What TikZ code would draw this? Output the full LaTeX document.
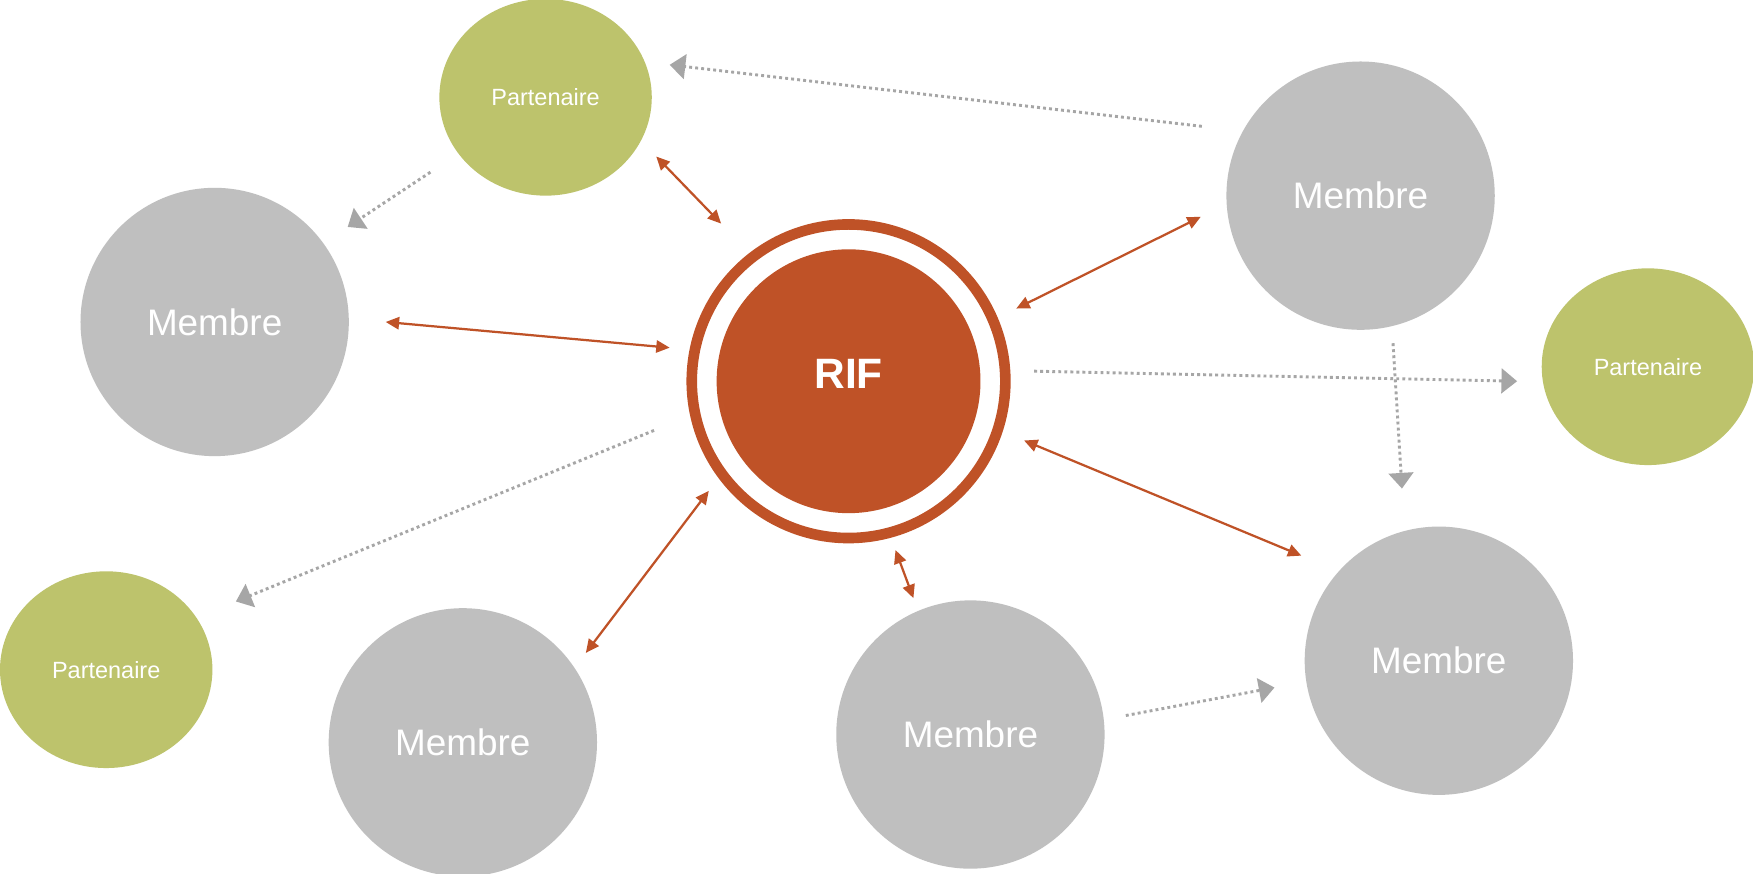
\documentclass[tikz,border=0pt]{standalone}
\usepackage{fontspec}
\setmainfont{Liberation Sans}
\usetikzlibrary{arrows.meta,shapes.geometric}
\definecolor{rifred}{RGB}{191,82,39}
\definecolor{memgray}{RGB}{191,191,191}
\definecolor{partgreen}{RGB}{189,195,108}
\definecolor{dotgray}{RGB}{166,166,166}
\tikzset{
  membre/.style={circle,fill=memgray,draw=none,minimum size=240pt,inner sep=0pt,text=white,font=\fontsize{33}{38}\selectfont},
  partenaire/.style={ellipse,fill=partgreen,draw=none,minimum width=190pt,minimum height=176pt,inner sep=0pt,text=white,font=\fontsize{21}{24}\selectfont},
  rifcore/.style={circle,fill=rifred,draw=none,minimum size=236pt,inner sep=0pt,text=white,font=\bfseries\fontsize{38}{44}\selectfont},
  rifring/.style={circle,draw=rifred,line width=9.5pt,minimum size=280.5pt,inner sep=0pt},
  link/.style={draw=rifred,line width=2pt,{Triangle[length=12pt,width=11pt]}-{Triangle[length=12pt,width=11pt]}},
  flow/.style={draw=dotgray,line width=2.6pt,dash pattern=on 2.6pt off 2.8pt,-{Triangle[length=14pt,width=22pt]}}
}
\begin{document}
\begin{tikzpicture}[x=1pt,y=-1pt]
\clip (0,0) rectangle (1568,781);
\fill[white] (0,0) rectangle (1568,781);
% nodes
\node[partenaire] (p1) at (488,87) {Partenaire};
\node[partenaire] (p2) at (1474,328) {Partenaire};
\node[partenaire] (p3) at (95,599) {Partenaire};
\node[membre] (m1) at (192,288) {Membre};
\node[membre] (m2) at (1217,175) {Membre};
\node[membre] (m3) at (414,664) {Membre};
\node[membre] (m4) at (868,657) {Membre};
\node[membre] (m5) at (1287,591) {Membre};
\node[rifring] (ring) at (759,341) {};
\node[rifcore] (rif) at (759,341) {\raisebox{13pt}{RIF}};
% connector ends
\coordinate (a1s) at (587,140);  \coordinate (a1e) at (645,200);
\coordinate (a2s) at (345,288);  \coordinate (a2e) at (599,311);
\coordinate (a3s) at (909,276);  \coordinate (a3e) at (1074,194);
\coordinate (a4s) at (634,439);  \coordinate (a4e) at (524,584);
\coordinate (a5s) at (916,394);  \coordinate (a5e) at (1164,497);
\coordinate (a6s) at (801,492);  \coordinate (a6e) at (817,535);
\coordinate (f1s) at (1075,113); \coordinate (f1e) at (599,58);
\coordinate (f2s) at (385,154);  \coordinate (f2e) at (311,203);
\coordinate (f3s) at (925,332);  \coordinate (f3e) at (1357,341);
\coordinate (f4s) at (1246,307); \coordinate (f4e) at (1254,437);
\coordinate (f5s) at (585,385);  \coordinate (f5e) at (211,538);
\coordinate (f6s) at (1007,640); \coordinate (f6e) at (1140,615);
% orange two-way links
\draw[link] (a1s) -- (a1e);
\draw[link] (a2s) -- (a2e);
\draw[link] (a3s) -- (a3e);
\draw[link] (a4s) -- (a4e);
\draw[link] (a5s) -- (a5e);
\draw[link] (a6s) -- (a6e);
% grey dotted flows
\draw[flow] (f1s) -- (f1e);
\draw[flow] (f2s) -- (f2e);
\draw[flow] (f3s) -- (f3e);
\draw[flow] (f4s) -- (f4e);
\draw[flow] (f5s) -- (f5e);
\draw[flow] (f6s) -- (f6e);
\end{tikzpicture}
\end{document}
